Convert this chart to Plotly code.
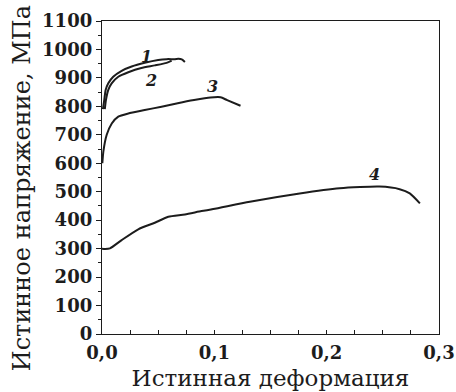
import plotly.graph_objects as go

# True stress-strain curves (strain, stress in MPa)
strain_1 = [0.0008, 0.002, 0.0033, 0.0056, 0.010, 0.0175, 0.0264, 0.038, 0.050, 0.0575, 0.065, 0.068, 0.071, 0.0738]
stress_1 = [790, 822, 858, 881, 904, 925, 940, 953, 963, 966, 966, 967, 965, 956]

strain_2 = [0.0025, 0.0035, 0.0056, 0.0086, 0.0145, 0.0234, 0.035, 0.047, 0.0575, 0.062]
stress_2 = [790, 822, 858, 881, 904, 920, 935, 944, 953, 961]

strain_3 = [0.0003, 0.0012, 0.0042, 0.0087, 0.0145, 0.0234, 0.038, 0.053, 0.0674, 0.082, 0.0966, 0.1055, 0.1114, 0.1233]
stress_3 = [600, 641, 700, 740, 764, 775, 787, 799, 811, 822, 831, 832, 822, 802]

strain_4 = [0.0, 0.0027, 0.0071, 0.0175, 0.0323, 0.047, 0.059, 0.0738, 0.0886, 0.099, 0.1316, 0.176, 0.2116, 0.247, 0.265, 0.274, 0.283]
stress_4 = [300, 299, 301, 330, 368, 391, 412, 420, 432, 439, 465, 494, 512, 518, 509, 494, 459]

curve_labels = ["1", "2", "3", "4"]
label_x = [0.040, 0.044, 0.098, 0.243]
label_y = [975, 890, 870, 560]

x_ticks = [0.0, 0.1, 0.2, 0.3]
y_ticks = list(range(0, 1101, 100))

x_title = "Истинная деформация"
y_title = "Истинное напряжение, МПа"

ink = "#1c1c1c"
serif = "DejaVu Serif"

fig = go.Figure()
for sx, sy in [(strain_1, stress_1), (strain_2, stress_2), (strain_3, stress_3), (strain_4, stress_4)]:
    fig.add_trace(go.Scatter(
        x=sx, y=sy, mode="lines",
        line=dict(color=ink, width=2, shape="spline", smoothing=0.6),
        showlegend=False, hoverinfo="skip",
    ))

for t, lx, ly in zip(curve_labels, label_x, label_y):
    fig.add_annotation(
        x=lx, y=ly, text="<b><i>" + t + "</i></b>", showarrow=False,
        font=dict(family=serif, size=16, color=ink),
    )

# vertical axis title, placed a little below the plot-area centre
fig.add_annotation(
    xref="paper", yref="paper", x=-0.237, y=0.466,
    xanchor="center", yanchor="middle", textangle=-90,
    text=y_title, showarrow=False,
    font=dict(family=serif, size=24, color=ink),
)

fig.update_layout(
    width=456, height=392,
    margin=dict(l=102, r=17, t=21, b=58),
    paper_bgcolor="white", plot_bgcolor="white",
    separators=", ",
    font=dict(family=serif, color=ink),
)

tick_font = dict(family=serif, size=18, color=ink, weight="bold")

fig.update_xaxes(
    range=[0, 0.3], tickvals=x_ticks, tickformat=".1f", automargin=False,
    ticks="inside", ticklen=4, tickwidth=1.2, tickcolor=ink,
    minor=dict(dtick=0.025, ticks="inside", ticklen=4, tickwidth=1.2, tickcolor=ink),
    showline=True, linecolor=ink, linewidth=1.4, mirror=True,
    showgrid=False, zeroline=False,
    tickfont=tick_font, ticklabelstandoff=2,
    title=dict(text=x_title, font=dict(family=serif, size=23, color=ink), standoff=8),
)
fig.update_yaxes(
    range=[0, 1100], tickvals=y_ticks, automargin=False,
    ticks="outside", ticklen=5, tickwidth=1.2, tickcolor=ink,
    minor=dict(dtick=50, ticks="outside", ticklen=3, tickwidth=1.2, tickcolor=ink),
    showline=True, linecolor=ink, linewidth=1.4, mirror=True,
    showgrid=False, zeroline=False,
    tickfont=tick_font,
)

fig.write_html("out.html")
